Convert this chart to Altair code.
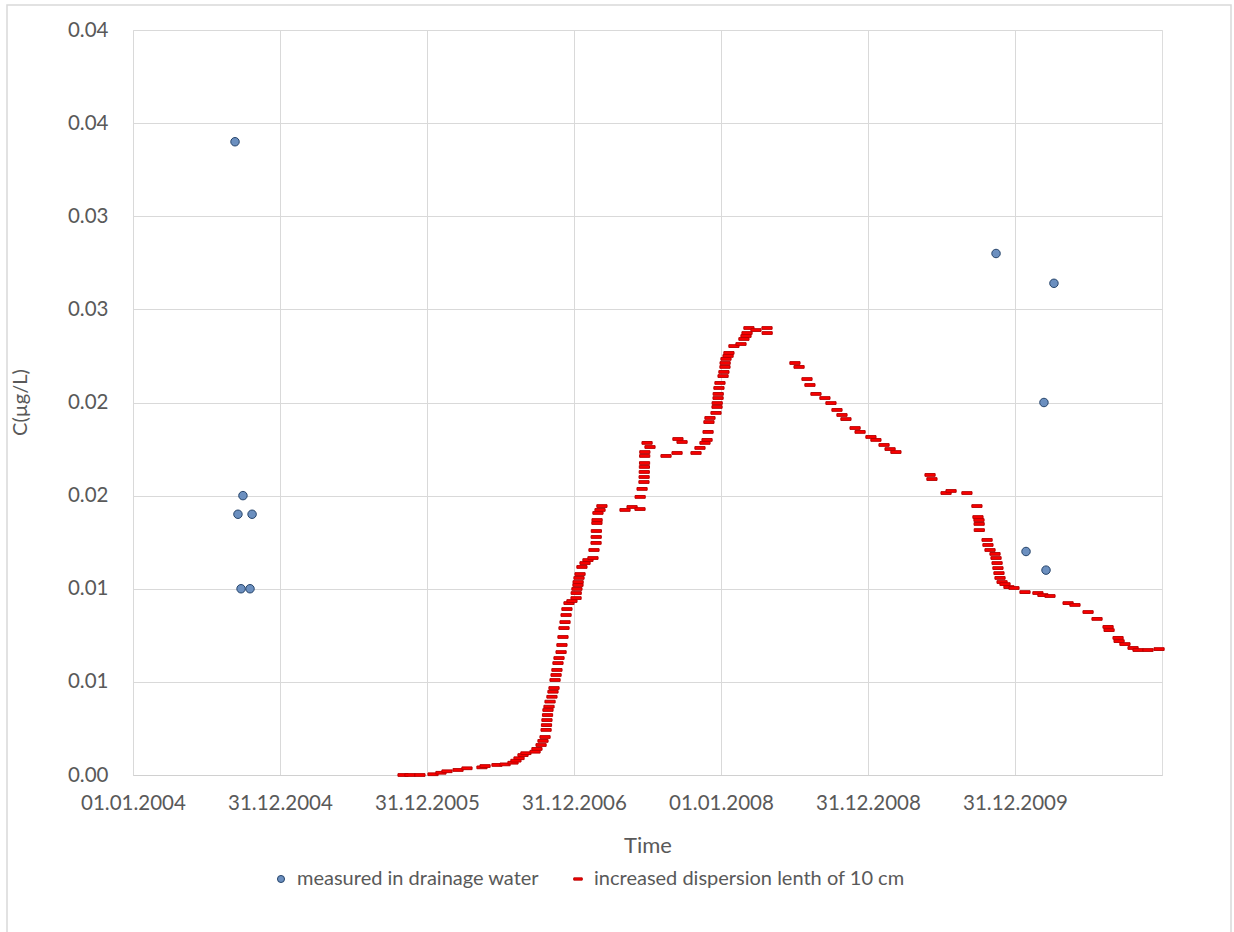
import altair as alt
import pandas as pd

# ---- data ----
# time as decimal year (2004.0 = 01.01.2004), concentration in µg/L
meas_t = [2004.694, 2004.748, 2004.714, 2004.810, 2004.735, 2004.796,
          2009.871, 2010.265, 2010.197, 2010.075, 2010.211]
meas_c = [0.0340, 0.0150, 0.0140, 0.0140, 0.0100, 0.0100,
          0.0280, 0.0264, 0.0200, 0.0120, 0.0110]

sim_t = [2005.837, 2005.884, 2005.952, 2006.041, 2006.095, 2006.136, 2006.211, 2006.272,
         2006.374, 2006.395, 2006.476, 2006.531, 2006.585, 2006.605, 2006.626, 2006.653,
         2006.673, 2006.735, 2006.748, 2006.776, 2006.789, 2006.803, 2006.810, 2006.813,
         2006.816, 2006.820, 2006.823, 2006.830, 2006.837, 2006.850, 2006.857, 2006.864,
         2006.871, 2006.878, 2006.884, 2006.891, 2006.898, 2006.912, 2006.918, 2006.925,
         2006.932, 2006.939, 2006.946, 2006.952, 2006.966, 2006.986, 2007.014, 2007.015,
         2007.020, 2007.027, 2007.028, 2007.034, 2007.041, 2007.054, 2007.075, 2007.095,
         2007.129, 2007.136, 2007.150, 2007.151, 2007.152, 2007.156, 2007.157, 2007.163,
         2007.177, 2007.190, 2007.347, 2007.395, 2007.449, 2007.450, 2007.463, 2007.476,
         2007.477, 2007.478, 2007.479, 2007.480, 2007.481, 2007.482, 2007.497, 2007.517,
         2007.626, 2007.701, 2007.707, 2007.735, 2007.830, 2007.857, 2007.891, 2007.905,
         2007.912, 2007.918, 2007.925, 2007.966, 2007.973, 2007.974, 2007.980, 2007.981,
         2007.986, 2007.993, 2008.014, 2008.020, 2008.027, 2008.028, 2008.034, 2008.048,
         2008.054, 2008.088, 2008.136, 2008.156, 2008.170, 2008.177, 2008.190, 2008.238,
         2008.313, 2008.314,
         2008.503, 2008.531, 2008.585, 2008.605, 2008.646, 2008.707, 2008.748, 2008.789,
         2008.823, 2008.850, 2008.912, 2008.946, 2009.020, 2009.054, 2009.109, 2009.150,
         2009.190, 2009.422, 2009.435, 2009.531, 2009.565, 2009.673, 2009.741, 2009.748,
         2009.755, 2009.756, 2009.757, 2009.810, 2009.816, 2009.830, 2009.864, 2009.871,
         2009.878, 2009.884, 2009.891, 2009.898, 2009.912, 2009.932, 2009.959, 2009.993,
         2010.068, 2010.156, 2010.190, 2010.238, 2010.361, 2010.408, 2010.497, 2010.558,
         2010.633, 2010.640, 2010.701, 2010.708, 2010.748, 2010.803, 2010.837, 2010.905,
         2010.980]
sim_c = [0.00000, 0.00000, 0.00000, 0.00004, 0.00012, 0.00020, 0.00027, 0.00036,
         0.00041, 0.00048, 0.00054, 0.00057, 0.00066, 0.00077, 0.00090, 0.00107,
         0.00117, 0.00125, 0.00140, 0.00161, 0.00183, 0.00204, 0.00242, 0.00268,
         0.00295, 0.00322, 0.00349, 0.00367, 0.00394, 0.00420, 0.00447, 0.00467,
         0.00510, 0.00537, 0.00564, 0.00601, 0.00628, 0.00660, 0.00698, 0.00741,
         0.00789, 0.00821, 0.00859, 0.00891, 0.00923, 0.00934, 0.00950, 0.00977,
         0.00999, 0.01020, 0.01036, 0.01058, 0.01079, 0.01117, 0.01138, 0.01154,
         0.01165, 0.01208, 0.01246, 0.01278, 0.01310, 0.01353, 0.01369, 0.01407,
         0.01423, 0.01444, 0.01423, 0.01439, 0.01428, 0.01493, 0.01536, 0.01573,
         0.01600, 0.01627, 0.01654, 0.01675, 0.01713, 0.01734, 0.01783, 0.01761,
         0.01713, 0.01729, 0.01804, 0.01788, 0.01729, 0.01756, 0.01783, 0.01799,
         0.01842, 0.01895, 0.01917, 0.01944, 0.01976, 0.01997, 0.02024, 0.02046,
         0.02078, 0.02105, 0.02142, 0.02164, 0.02191, 0.02212, 0.02234, 0.02250,
         0.02266, 0.02303, 0.02314, 0.02341, 0.02357, 0.02373, 0.02400, 0.02389,
         0.02400, 0.02373,
         0.02212, 0.02191, 0.02126, 0.02094, 0.02046, 0.02024, 0.01997, 0.01960,
         0.01933, 0.01911, 0.01863, 0.01842, 0.01815, 0.01799, 0.01772, 0.01750,
         0.01734, 0.01611, 0.01589, 0.01514, 0.01525, 0.01514, 0.01444, 0.01385,
         0.01369, 0.01348, 0.01315, 0.01262, 0.01235, 0.01208, 0.01187, 0.01165,
         0.01138, 0.01111, 0.01084, 0.01058, 0.01036, 0.01025, 0.01009, 0.01004,
         0.00982, 0.00977, 0.00966, 0.00961, 0.00923, 0.00913, 0.00875, 0.00838,
         0.00795, 0.00778, 0.00736, 0.00719, 0.00703, 0.00682, 0.00671, 0.00671,
         0.00676]

series_names = ["measured in drainage water", "increased dispersion lenth of 10 cm"]
x_tick_values = [2004, 2005, 2006, 2007, 2008, 2009, 2010]
x_tick_labels = ["01.01.2004", "31.12.2004", "31.12.2005", "31.12.2006",
                 "01.01.2008", "31.12.2008", "31.12.2009"]
y_tick_values = [0, 0.005, 0.01, 0.015, 0.02, 0.025, 0.03, 0.035, 0.04]
y_tick_labels = ["0.00", "0.01", "0.01", "0.02", "0.02", "0.03", "0.03", "0.04", "0.04"]

# ---- table ----
df = pd.concat([
    pd.DataFrame({"t": sim_t, "c": sim_c, "series": series_names[1]}),
    pd.DataFrame({"t": meas_t, "c": meas_c, "series": series_names[0]}),
], ignore_index=True)

FONT = "Lato"
GREY = "#595959"
DASH = "M-1.2,-0.32H1.2V0.32H-1.2Z"

xlab_js = "[" + ",".join("'%s'" % s for s in x_tick_labels) + "]"
ylab_js = "[" + ",".join("'%s'" % s for s in y_tick_labels) + "]"

legend = alt.Legend(
    title=None, orient="none", direction="horizontal",
    legendX=138, legendY=839,
    labelFont=FONT, labelFontSize=20, labelColor=GREY, labelLimit=0,
    symbolSize=50, symbolStrokeWidth=1, columnPadding=28, labelOffset=6,
)

points = alt.Chart(df).mark_point(filled=True, opacity=1, strokeWidth=1, size=72).encode(
    x=alt.X("t:Q", title="Time",
            scale=alt.Scale(domain=[2004, 2011], nice=False, zero=False),
            axis=alt.Axis(values=x_tick_values,
                          labelExpr=xlab_js + "[round(datum.value - 2004)]",
                          grid=True, ticks=False, domain=True, labelFlush=False,
                          labelOverlap=False,
                          domainColor="#D0D0D0", gridColor="#D9D9D9",
                          labelFont=FONT, labelFontSize=20.5, labelColor=GREY,
                          labelPadding=18,
                          titleFont=FONT, titleFontSize=22, titleColor=GREY,
                          titleFontWeight="normal", titlePadding=22)),
    y=alt.Y("c:Q", title="C(µg/L)",
            scale=alt.Scale(domain=[0, 0.04], nice=False, zero=True),
            axis=alt.Axis(values=y_tick_values,
                          labelExpr=ylab_js + "[round(datum.value * 200)]",
                          grid=True, ticks=False, domain=False,
                          gridColor="#D9D9D9",
                          labelFont=FONT, labelFontSize=20.5, labelColor=GREY,
                          labelPadding=25,
                          titleFont=FONT, titleFontSize=20, titleColor=GREY,
                          titleFontWeight="normal",
                          titleX=-113, titleY=372, titleBaseline="middle")),
    fill=alt.Fill("series:N", scale=alt.Scale(domain=series_names, range=["#6B8FBF", "#FF0000"]),
                  legend=legend),
    stroke=alt.Stroke("series:N", scale=alt.Scale(domain=series_names, range=["#27456B", "#B80000"]),
                      legend=legend),
    shape=alt.Shape("series:N", scale=alt.Scale(domain=series_names, range=["circle", DASH]),
                    legend=legend),
)

frame = alt.Chart(pd.DataFrame({"k": [0]})).mark_rect(
    fill=None, stroke="#D9D9D9", strokeWidth=1.5
).encode(x=alt.value(-126), x2=alt.value(1098), y=alt.value(-25), y2=alt.value(930))

chart = alt.layer(frame, points).properties(
    width=1029, height=745,
    autosize=alt.AutoSizeParams(type="none"),
    padding={"left": 133, "top": 30, "right": 72, "bottom": 157},
).configure_view(stroke=None).configure(background="white")

chart.save("out.html", embed_options={"renderer": "svg", "actions": False})
